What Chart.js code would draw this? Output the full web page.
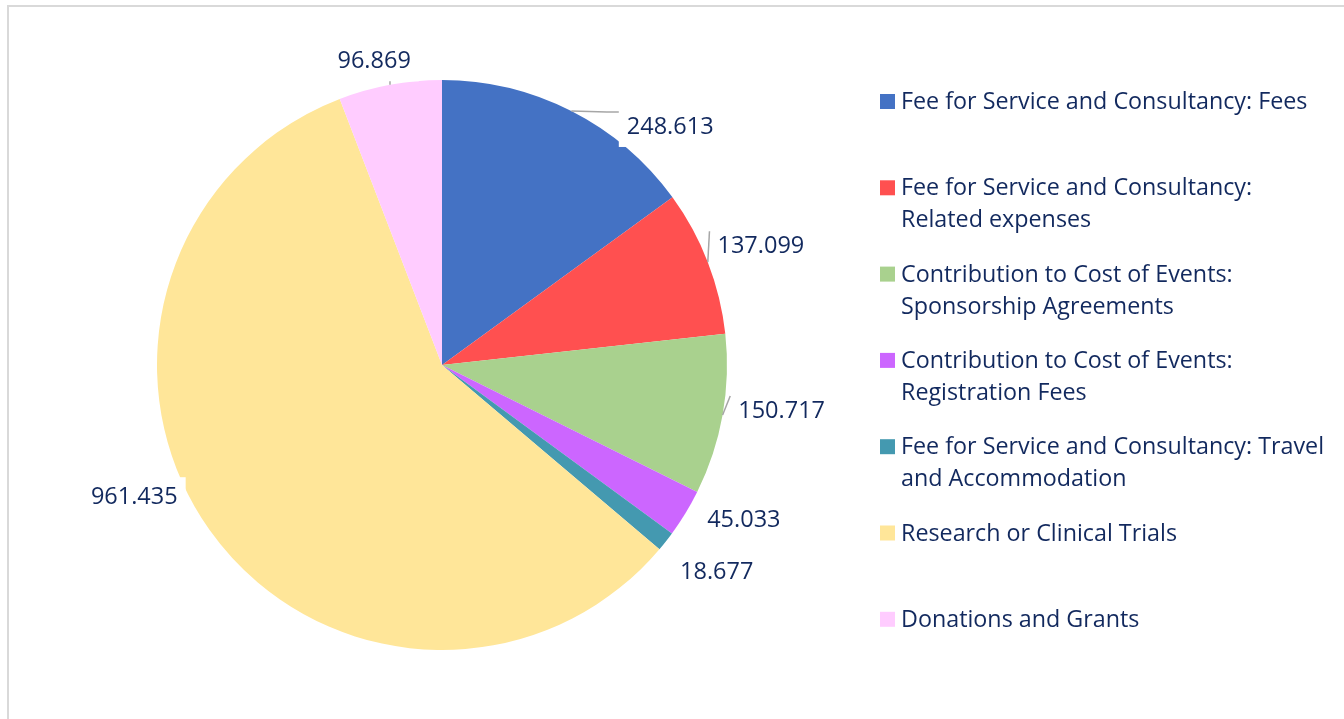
<!DOCTYPE html>
<html>
<head>
<meta charset="utf-8">
<script src="https://cdn.jsdelivr.net/npm/chart.js"></script>
<style>
    html, body { margin: 0; padding: 0; background: #fff; }
    #wrap { position: relative; width: 1344px; height: 719px; overflow: hidden; }
    #frame { position: absolute; left: 7px; top: 5px; width: 1400px; height: 800px;
             border-top: 2px solid #d9d9d9; border-left: 2px solid #d9d9d9; }
    canvas { position: absolute; left: 0; top: 0; }
</style>
</head>
<body>
<div id="wrap">
    <div id="frame"></div>
    <canvas id="chart" width="1344" height="719"></canvas>
</div>
<script>
// categories, in the order they are drawn clockwise from 12 o'clock
const categories = [
    ['Fee for Service and Consultancy: Fees'],
    ['Fee for Service and Consultancy:', 'Related expenses'],
    ['Contribution to Cost of Events:', 'Sponsorship Agreements'],
    ['Contribution to Cost of Events:', 'Registration Fees'],
    ['Fee for Service and Consultancy: Travel', 'and Accommodation'],
    ['Research or Clinical Trials'],
    ['Donations and Grants']
];
const amounts = [248613, 137099, 150717, 45033, 18677, 961435, 96869];
const sliceColors = ['#4472C4', '#FF5050', '#A9D18E', '#CC66FF', '#4499B0', '#FFE699', '#FFCCFF'];

const textColor = '#12295E';
const labelFont = '23.5px "Open Sans"';
const legendFont = '23.3px "Open Sans"';

// labels that were dragged off their default spot in the original, and which get a leader line
const labelShift = [[79, 55], [-1, 5], [2, -14], [15, -19], [12, 0], [-30, -65], [-10, 8]];
const hasLeader = [true, true, true, false, false, false, true];

function fmt(v) {
    return v.toLocaleString('de-DE');
}

const sliceLabels = {
    id: 'sliceLabels',
    afterDatasetsDraw(chart) {
        const ctx = chart.ctx;
        const meta = chart.getDatasetMeta(0);
        ctx.save();
        ctx.font = labelFont;
        let items = meta.data.map((arc, i) => {
            const p = arc.getProps(['x', 'y', 'outerRadius', 'startAngle', 'endAngle'], true);
            const mid = (p.startAngle + p.endAngle) / 2;
            const cos = Math.cos(mid), sin = Math.sin(mid);
            const text = fmt(amounts[i]);
            const w = ctx.measureText(text).width;
            const ext = Math.abs(cos) * w / 2 + Math.abs(sin) * 12.5;
            const d = p.outerRadius + 13 + ext;
            const cx = p.x + cos * d + labelShift[i][0];
            const cy = p.y + sin * d + labelShift[i][1];
            return {
                text, cx, cy,
                L: cx - w / 2 - 8, R: cx + w / 2 + 8, T: cy - 20, B: cy + 20,
                px: p.x + cos * p.outerRadius, py: p.y + sin * p.outerRadius
            };
        });
        // white label boxes
        ctx.fillStyle = '#fff';
        items.forEach(it => ctx.fillRect(it.L, it.T, it.R - it.L, it.B - it.T));
        // leader lines
        ctx.strokeStyle = '#A6A6A6';
        ctx.lineWidth = 1.5;
        items.forEach((it, i) => {
            if (!hasLeader[i]) return;
            ctx.beginPath();
            ctx.moveTo(it.px, it.py);
            if (it.py > it.B) {
                ctx.lineTo(Math.min(Math.max(it.px, it.L + 4), it.R - 4), it.B);
            } else {
                const ay = it.T + 5;
                const ex = it.L - 12;
                if (ex > it.px) ctx.lineTo(ex, ay);
                ctx.lineTo(it.L, ay);
            }
            ctx.stroke();
        });
        // value text
        ctx.fillStyle = textColor;
        ctx.textAlign = 'center';
        ctx.textBaseline = 'middle';
        items.forEach(it => ctx.fillText(it.text, it.cx, it.cy));
        ctx.restore();
    }
};

const sideLegend = {
    id: 'sideLegend',
    afterDraw(chart) {
        const ctx = chart.ctx;
        const x0 = 880, y0 = 101, slot = 86.3, lineH = 32;
        ctx.save();
        ctx.font = legendFont;
        ctx.textAlign = 'left';
        ctx.textBaseline = 'middle';
        categories.forEach((lines, i) => {
            const yy = y0 + i * slot;
            ctx.fillStyle = sliceColors[i];
            ctx.fillRect(x0, yy - 7, 15, 15);
            ctx.fillStyle = textColor;
            lines.forEach((ln, j) => ctx.fillText(ln, x0 + 21, yy + 1.5 + j * lineH));
        });
        ctx.restore();
    }
};

new Chart(document.getElementById('chart'), {
    type: 'pie',
    data: {
        labels: categories,
        datasets: [{
            data: amounts,
            backgroundColor: sliceColors,
            borderWidth: 0
        }]
    },
    options: {
        responsive: false,
        animation: false,
        layout: {
            padding: { left: 157, right: 617, top: 80, bottom: 69 }
        },
        plugins: {
            legend: { display: false },
            tooltip: { enabled: false }
        }
    },
    plugins: [sliceLabels, sideLegend]
});
</script>
</body>
</html>
